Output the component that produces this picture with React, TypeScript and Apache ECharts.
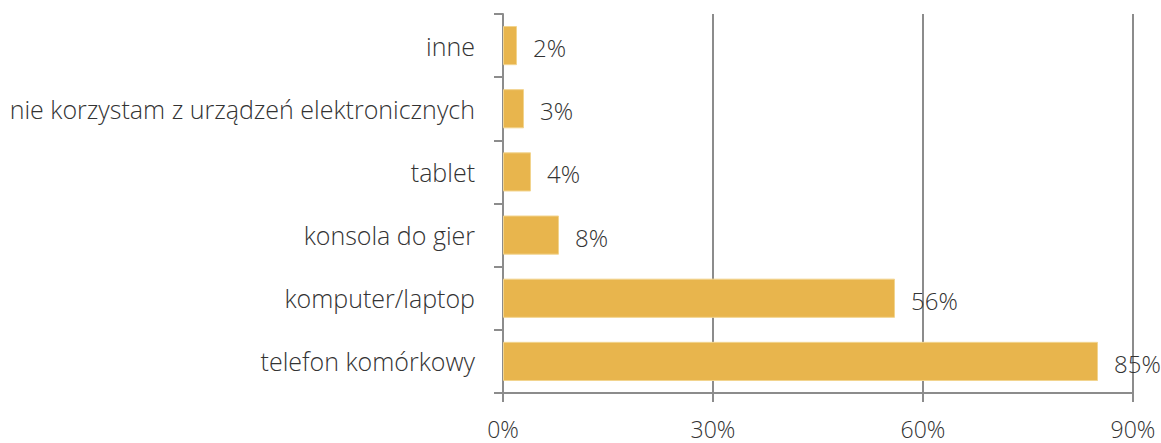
import React, { useEffect, useRef } from "react";
import * as echarts from "echarts";

const categories = [
  "telefon komórkowy",
  "komputer/laptop",
  "konsola do gier",
  "tablet",
  "nie korzystam z urządzeń elektronicznych",
  "inne",
];
const values = [85, 56, 8, 4, 3, 2];
const xTicks = [0, 30, 60, 90];

export default function App() {
  const ref = useRef<HTMLDivElement>(null);
  useEffect(() => {
    if (!ref.current) return;
    const chart = echarts.init(ref.current, undefined, { renderer: "svg" });
    const font = "'Open Sans', 'Noto Sans', sans-serif";
    chart.setOption({
      animation: false,
      textStyle: { fontFamily: font },
      grid: { left: 503, right: 28, top: 14, bottom: 50, containLabel: false },
      xAxis: {
        type: "value",
        min: xTicks[0],
        max: xTicks[xTicks.length - 1],
        interval: 30,
        axisLine: { show: true, lineStyle: { color: "#8c8c8c", width: 2 } },
        axisTick: { show: true, length: 9, lineStyle: { color: "#8c8c8c", width: 2 } },
        splitLine: { show: true, lineStyle: { color: "#8c8c8c", width: 2 } },
        axisLabel: {
          formatter: "{value}%",
          fontSize: 23,
          fontWeight: 300,
          color: "#333333",
          margin: 24,
          fontFamily: font,
        },
      },
      yAxis: {
        type: "category",
        data: categories,
        axisLine: { show: true, lineStyle: { color: "#8c8c8c", width: 2 } },
        axisTick: { show: true, length: 9, lineStyle: { color: "#8c8c8c", width: 2 } },
        axisLabel: {
          fontSize: 25,
          fontWeight: 300,
          color: "#333333",
          margin: 28,
          fontFamily: font,
        },
      },
      series: [
        {
          type: "bar",
          data: values,
          barWidth: "62%",
          itemStyle: { color: "#E8B54D", borderColor: "#F2D48E", borderWidth: 1 },
          label: {
            show: true,
            position: "right",
            distance: 16,
            offset: [0, 2],
            formatter: "{c}%",
            fontSize: 24,
            fontWeight: 300,
            color: "#333333",
            fontFamily: font,
          },
        },
      ],
    });
    return () => chart.dispose();
  }, []);
  return (
    <div
      ref={ref}
      style={{ position: "fixed", left: 0, top: 0, width: 1161, height: 443, background: "#fff" }}
    />
  );
}
